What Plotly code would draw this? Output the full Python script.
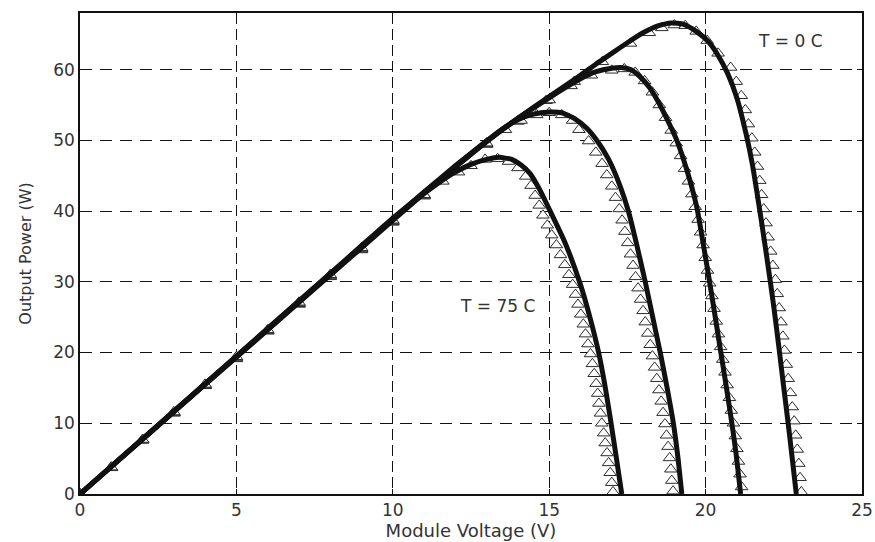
import plotly.graph_objects as go

# ---------------- data ----------------
# Model curves (solid lines)
v_line_t0 = [0, 1, 2, 3, 4, 5, 6, 7, 8, 9, 10, 11, 12, 13, 14, 15, 16, 16.5, 17, 17.5, 18, 18.5, 18.9,
             19.3, 19.7, 20.1, 20.4, 20.7, 21.0, 21.3, 21.5, 21.7, 21.9, 22.07, 22.2, 22.35, 22.5, 22.65, 22.77, 22.9]
p_line_t0 = [0, 3.87, 7.74, 11.6, 15.5, 19.35, 23.2, 27.1, 30.95, 34.8, 38.7, 42.5, 46.2, 49.8, 53.1, 56.2, 59.2,
             60.8, 62.3, 63.8, 65.2, 66.2, 66.6, 66.4, 65.4, 63.9, 62.0, 59.5, 56.0, 50.8, 46.5, 41.0, 35.2, 30.0,
             25.8, 20.5, 15.0, 9.6, 5.0, 0]

v_line_t25 = [0, 1, 2, 3, 4, 5, 6, 7, 8, 9, 10, 11, 12, 13, 14, 15, 15.5, 16, 16.5, 17, 17.3, 17.6, 17.9, 18.2,
              18.44, 18.8, 19.08, 19.4, 19.72, 19.9, 20.09, 20.28, 20.47, 20.66, 20.84, 20.98, 21.12]
p_line_t25 = [0, 3.88, 7.76, 11.64, 15.52, 19.4, 23.28, 27.16, 31.04, 34.92, 38.8, 42.6, 46.3, 49.9, 53.1, 56.0,
              57.4, 58.7, 59.7, 60.2, 60.3, 60.0, 59.0, 57.5, 55.8, 52.7, 50.0, 45.8, 40.5, 36.0, 31.0, 25.8,
              20.5, 15.2, 10.0, 5.5, 0]

v_line_t50 = [0, 1, 2, 3, 4, 5, 6, 7, 8, 9, 10, 11, 12, 13, 13.5, 14, 14.5, 15, 15.4, 15.8, 16.2, 16.52, 16.9,
              17.27, 17.53, 17.8, 18.07, 18.3, 18.55, 18.77, 18.97, 19.12, 19.24]
p_line_t50 = [0, 3.89, 7.78, 11.67, 15.56, 19.45, 23.34, 27.23, 31.12, 35.01, 38.9, 42.7, 46.4, 49.9, 51.6, 52.9,
              53.7, 54.0, 53.9, 53.1, 51.7, 50.0, 47.3, 43.5, 40.0, 35.2, 30.0, 25.2, 20.0, 15.0, 10.0, 5.0, 0]

v_line_t75 = [0, 1, 2, 3, 4, 5, 6, 7, 8, 9, 10, 10.5, 11, 11.5, 12, 12.5, 13, 13.4, 13.8, 14.1, 14.39, 14.7,
              15.03, 15.5, 16.0, 16.3, 16.58, 16.78, 16.95, 17.13, 17.32]
p_line_t75 = [0, 3.9, 7.8, 11.7, 15.6, 19.5, 23.4, 27.3, 31.2, 35.1, 39.0, 40.8, 42.5, 44.1, 45.5, 46.6, 47.3,
              47.6, 47.3, 46.5, 45.3, 43.0, 40.0, 35.6, 29.6, 25.0, 20.0, 15.4, 10.8, 5.6, 0]

# Measured points (triangles)
v_mark_t0 = [0, 1, 2, 3, 4, 5, 6, 7, 8, 9, 10, 11, 12, 13, 14, 14.9, 15.8, 16.7, 17.6, 18.2, 18.6, 19.0, 19.35,
             19.7, 20.05, 20.4, 20.8, 20.98, 21.14, 21.27, 21.37, 21.48, 21.57, 21.66, 21.73, 21.79, 21.86,
             21.93, 22.0, 22.08, 22.15, 22.23, 22.29, 22.35, 22.41, 22.47, 22.52, 22.58, 22.64, 22.71, 22.77,
             22.83, 22.88, 22.93, 22.98, 23.02, 23.06]
p_mark_t0 = [0, 3.7, 7.6, 11.4, 15.3, 19.1, 23.0, 26.8, 30.7, 34.5, 38.4, 42.1, 45.8, 49.4, 52.7, 55.6, 58.3,
             61.1, 63.7, 65.2, 65.9, 66.3, 66.2, 65.4, 64.1, 62.3, 60.3, 58.3, 56.3, 54.3, 52.3, 50.3, 48.3,
             46.3, 44.3, 42.3, 40.3, 38.3, 36.3, 34.3, 32.3, 30.3, 28.3, 26.3, 24.3, 22.3, 20.3, 18.3, 16.3,
             14.3, 12.3, 10.3, 8.3, 6.3, 4.3, 2.3, 0.3]

v_mark_t25 = [0, 1, 2, 3, 4, 5, 6, 7, 8, 9, 10, 11, 12, 13, 14, 15.0, 15.7, 16.35, 17.0, 17.4, 17.75, 18.05,
              18.3, 18.52, 18.72, 18.9, 19.06, 19.2, 19.33, 19.45, 19.56, 19.67, 19.76, 19.84, 19.92, 19.99,
              20.06, 20.13, 20.2, 20.27, 20.34, 20.41, 20.48, 20.55, 20.62, 20.69, 20.76, 20.82, 20.89, 20.95,
              21.0, 21.05, 21.1, 21.15]
p_mark_t25 = [0, 3.75, 7.6, 11.5, 15.3, 19.2, 23.1, 26.9, 30.8, 34.6, 38.5, 42.2, 45.9, 49.5, 52.7, 55.7, 57.7,
              59.2, 59.9, 60.1, 59.6, 58.4, 56.8, 55.0, 53.2, 51.4, 49.6, 47.8, 46.0, 44.2, 42.4, 40.6, 38.8,
              37.0, 35.2, 33.4, 31.6, 29.8, 28.0, 26.2, 24.4, 22.6, 20.8, 19.0, 17.2, 15.4, 13.6, 11.8, 10.0,
              8.2, 6.4, 4.6, 2.8, 1.0]

v_mark_t50 = [0, 1, 2, 3, 4, 5, 6, 7, 8, 9, 10, 11, 12, 13, 13.6, 14.1, 14.6, 15.0, 15.4, 15.75, 15.95, 16.26,
              16.49, 16.69, 16.84, 17.0, 17.12, 17.24, 17.33, 17.42, 17.51, 17.6, 17.68, 17.76, 17.84, 17.92,
              18.0, 18.07, 18.15, 18.23, 18.3, 18.37, 18.44, 18.51, 18.58, 18.64, 18.7, 18.75, 18.8, 18.85,
              18.89, 18.92, 18.96]
p_mark_t50 = [0, 3.75, 7.65, 11.5, 15.4, 19.3, 23.1, 27.0, 30.9, 34.7, 38.6, 42.3, 46.0, 49.6, 51.5, 52.8, 53.6,
              53.9, 53.6, 52.8, 51.5, 49.9, 48.3, 46.7, 45.1, 43.5, 41.9, 40.3, 38.7, 37.1, 35.5, 33.9, 32.3,
              30.7, 29.1, 27.5, 25.9, 24.3, 22.7, 21.1, 19.5, 17.9, 16.3, 14.7, 13.1, 11.5, 9.9, 8.3, 6.7, 5.1,
              3.5, 1.9, 0.4]

v_mark_t75 = [0, 1, 2, 3, 4, 5, 6, 7, 8, 9, 10, 11, 11.6, 12.1, 12.5, 12.95, 13.35, 13.7, 14.0, 14.25, 14.42,
              14.55, 14.68, 14.8, 14.94, 15.08, 15.23, 15.36, 15.5, 15.63, 15.75, 15.84, 15.92, 16.01, 16.09,
              16.16, 16.24, 16.32, 16.38, 16.44, 16.5, 16.55, 16.59, 16.64, 16.68, 16.74, 16.79, 16.85, 16.9,
              16.95, 17.0, 17.04]
p_mark_t75 = [0, 3.8, 7.7, 11.6, 15.5, 19.4, 23.2, 27.1, 31.0, 34.8, 38.7, 42.3, 44.2, 45.5, 46.4, 47.3, 47.4,
              47.0, 46.1, 44.9, 43.6, 42.2, 40.8, 39.4, 38.0, 36.6, 35.2, 33.8, 32.4, 31.0, 29.6, 28.2, 26.8,
              25.4, 24.0, 22.6, 21.2, 19.8, 18.4, 17.0, 15.6, 14.2, 12.8, 11.4, 10.0, 8.6, 7.2, 5.8, 4.4, 3.0,
              1.6, 0.3]

x_ticks = [0, 5, 10, 15, 20, 25]
y_ticks = [0, 10, 20, 30, 40, 50, 60]
label_hot = "T = 75 C"
label_cold = "T = 0 C"
x_title = "Module Voltage (V)"
y_title = "Output Power (W)"

# ---------------- figure ----------------
font_family = "DejaVu Sans, Arial, sans-serif"
text_color = "#333333"

fig = go.Figure()

marks = [(v_mark_t0, p_mark_t0), (v_mark_t25, p_mark_t25), (v_mark_t50, p_mark_t50), (v_mark_t75, p_mark_t75)]
lines = [(v_line_t0, p_line_t0), (v_line_t25, p_line_t25), (v_line_t50, p_line_t50), (v_line_t75, p_line_t75)]

for vx, py in marks:
    fig.add_trace(go.Scatter(
        x=vx, y=py, mode="markers", showlegend=False, hoverinfo="skip",
        marker=dict(symbol="triangle-up", size=11, color="white",
                    line=dict(color="#2b2b2b", width=1)),
    ))

for vx, py in lines:
    fig.add_trace(go.Scatter(
        x=vx, y=py, mode="lines", showlegend=False, hoverinfo="skip",
        line=dict(color="#111111", width=5, shape="spline", smoothing=0.5),
    ))

axis_common = dict(
    automargin=False,
    showgrid=True, gridcolor="#111111", gridwidth=1.2,
    showline=True, linecolor="#111111", linewidth=1.6, mirror="ticks",
    ticks="inside", ticklen=5, tickcolor="#111111", tickwidth=1.2,
    zeroline=False,
    tickfont=dict(family=font_family, size=17, color=text_color),
)

fig.update_layout(
    width=875, height=542,
    margin=dict(l=80, r=13, t=13, b=48),
    paper_bgcolor="white", plot_bgcolor="white",
    xaxis=dict(range=[0, 25], tickvals=x_ticks, griddash="11px,5px",
               title=dict(text=x_title, standoff=5,
                          font=dict(family=font_family, size=18, color=text_color)),
               **axis_common),
    yaxis=dict(range=[0, 68], tickvals=y_ticks, griddash="12px,8px",
               title=dict(text=y_title, standoff=18,
                          font=dict(family=font_family, size=16, color=text_color)),
               **axis_common),
    annotations=[
        dict(x=22.7, y=64.1, xref="x", yref="y", text=label_cold, showarrow=False,
             font=dict(family=font_family, size=17, color=text_color)),
        dict(x=13.35, y=26.6, xref="x", yref="y", text=label_hot, showarrow=False,
             font=dict(family=font_family, size=17, color=text_color)),
    ],
)

fig.write_html("out.html", config={"displayModeBar": False},
               post_script="document.body.style.margin='0';document.body.style.overflow='hidden';")
